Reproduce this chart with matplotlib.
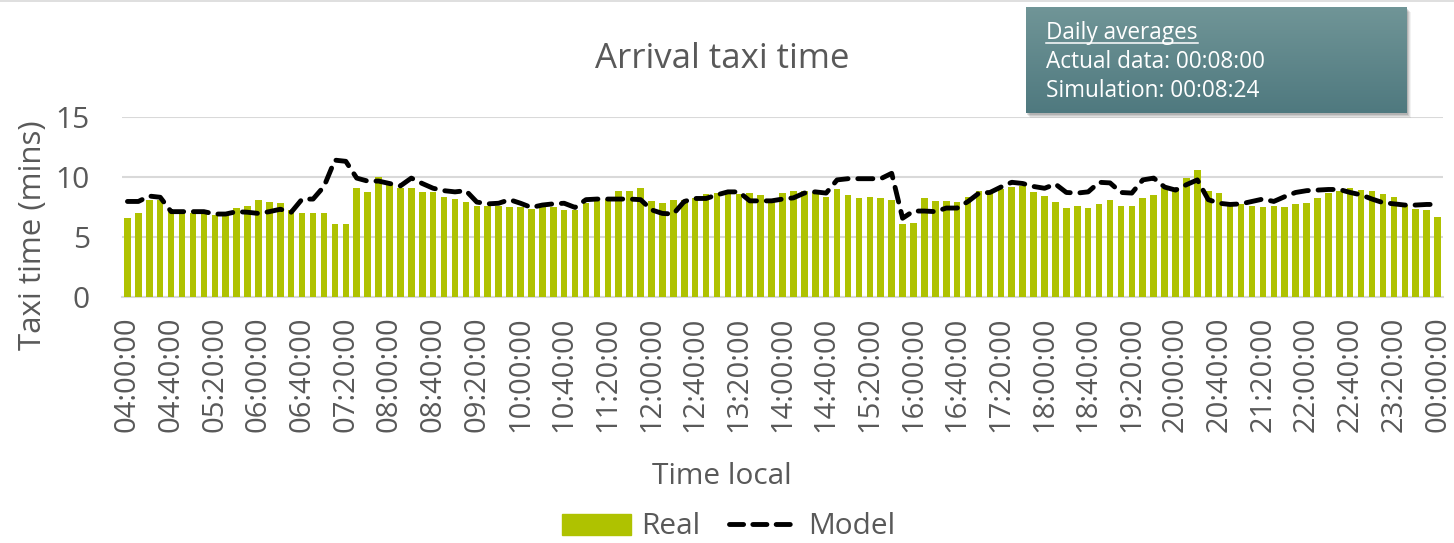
import numpy as np
import matplotlib
matplotlib.use("Agg")
import matplotlib.pyplot as plt
from matplotlib.patches import Rectangle, Patch
from matplotlib.lines import Line2D

plt.rcParams['font.family'] = ['Open Sans', 'DejaVu Sans']

# 10-minute slots from 04:00 to 00:00
real = [6.55, 7.0, 8.05, 8.1, 7.1, 7.25, 7.0, 7.0, 6.8, 6.8,
        7.4, 7.6, 8.05, 7.9, 7.8, 7.25, 7.0, 7.0, 7.0, 6.07,
        6.07, 9.05, 8.75, 10.0, 9.3, 9.05, 9.05, 8.75, 8.75, 8.35,
        8.15, 7.9, 7.6, 7.6, 7.6, 7.45, 7.45, 7.3, 7.45, 7.45,
        7.2, 7.25, 7.8, 7.95, 8.15, 8.8, 8.85, 9.05, 8.0, 7.8,
        8.1, 8.1, 8.2, 8.55, 8.65, 8.75, 8.55, 8.65, 8.45, 8.15,
        8.65, 8.8, 8.85, 8.7, 8.35, 8.95, 8.45, 8.25, 8.35, 8.2,
        8.05, 6.07, 6.15, 8.2, 8.0, 7.95, 7.9, 8.35, 8.85, 8.7,
        8.95, 9.15, 9.25, 8.75, 8.4, 7.9, 7.4, 7.6, 7.4, 7.75,
        8.05, 7.6, 7.6, 8.2, 8.5, 9.05, 9.05, 9.9, 10.55, 8.85,
        8.65, 7.85, 7.75, 7.6, 7.45, 7.6, 7.45, 7.75, 7.8, 8.25,
        8.65, 8.85, 9.05, 8.9, 8.85, 8.55, 8.3, 7.65, 7.3, 7.25,
        6.65]

model = [7.95, 7.95, 8.4, 8.3, 7.1, 7.1, 7.1, 7.1, 6.9, 6.9,
         7.1, 7.05, 6.95, 7.1, 7.3, 7.05, 8.15, 8.15, 9.2, 11.4,
         11.3, 9.9, 9.65, 9.65, 9.45, 9.25, 9.9, 9.45, 9.05, 8.85,
         8.75, 8.85, 7.9, 7.75, 7.8, 8.1, 7.8, 7.45, 7.65, 7.75,
         7.8, 7.45, 8.1, 8.15, 8.15, 8.15, 8.15, 8.1, 7.25, 6.95,
         6.9, 7.95, 8.2, 8.2, 8.5, 8.75, 8.75, 8.0, 8.0, 8.0,
         8.15, 8.25, 8.65, 8.75, 8.65, 9.75, 9.85, 9.85, 9.85, 9.85,
         10.3, 6.55, 7.15, 7.15, 7.1, 7.4, 7.4, 7.95, 8.65, 8.7,
         9.15, 9.55, 9.45, 9.2, 9.05, 9.4, 8.7, 8.65, 8.75, 9.55,
         9.5, 8.7, 8.65, 9.75, 9.9, 9.15, 8.9, 9.35, 9.75, 8.1,
         7.8, 7.7, 7.75, 7.95, 8.15, 7.95, 8.35, 8.7, 8.85, 8.9,
         8.95, 8.95, 8.7, 8.5, 8.15, 7.85, 7.75, 7.65, 7.65, 7.7,
         7.7]

tick_labels = ["04:00:00", "04:40:00", "05:20:00", "06:00:00", "06:40:00",
               "07:20:00", "08:00:00", "08:40:00", "09:20:00", "10:00:00",
               "10:40:00", "11:20:00", "12:00:00", "12:40:00", "13:20:00",
               "14:00:00", "14:40:00", "15:20:00", "16:00:00", "16:40:00",
               "17:20:00", "18:00:00", "18:40:00", "19:20:00", "20:00:00",
               "20:40:00", "21:20:00", "22:00:00", "22:40:00", "23:20:00",
               "00:00:00"]
tick_step = 4

avg_lines = ["Daily averages", "Actual data: 00:08:00", "Simulation: 00:08:24"]

GREEN = "#AFC200"
GREY_TXT = "#595959"
GRID = "#D9D9D9"

W, H = 1454, 543
fig = plt.figure(figsize=(W / 100, H / 100), dpi=100)
fig.patch.set_facecolor("white")

def fx(px):
    return px / W

def fy(py):
    return 1 - py / H

ax = fig.add_axes([fx(122), fy(296.7), fx(1443) - fx(122), fy(117) - fy(296.7)])
x = np.arange(len(real))
ax.bar(x, real, width=0.6, color=GREEN, zorder=2)
ax.plot(x, model, color="black", lw=3.5, dashes=(3.1, 2.0),
        dash_capstyle="round", solid_capstyle="round", zorder=3)

ax.set_xlim(-0.5, len(real) - 0.5)
ax.set_ylim(0, 15)
ax.set_yticks([0, 5, 10, 15])
ax.set_xticks(x[::tick_step])
ax.set_xticklabels(tick_labels, rotation=90, fontsize=21, color=GREY_TXT)
ax.tick_params(axis="y", labelsize=21.5, labelcolor=GREY_TXT, length=0, pad=23)
ax.tick_params(axis="x", length=0, pad=14)
ax.grid(axis="y", color=GRID, lw=1.5, zorder=0)
ax.set_axisbelow(True)
for s in ["top", "right", "left"]:
    ax.spines[s].set_visible(False)
ax.spines["bottom"].set_color(GRID)
ax.spines["bottom"].set_linewidth(1.5)
ax.spines["bottom"].set_zorder(1)
ax.patch.set_alpha(0)

# outer chart frame line at top
fig.add_artist(Line2D([0, 1], [fy(1), fy(1)], color=GRID, lw=1.2))

fig.text(fx(722), fy(59), "Arrival taxi time", ha="center", va="center",
         fontsize=25, color=GREY_TXT)
fig.text(fx(33), fy(235), "Taxi time (mins)", rotation=90, ha="center",
         va="center", fontsize=22.5, color=GREY_TXT)
fig.text(fx(722), fy(476), "Time local", ha="center", va="center",
         fontsize=21.5, color=GREY_TXT)

handles = [Patch(facecolor=GREEN, edgecolor=GREEN),
           Line2D([], [], color="black", lw=3.5, dashes=(2.9, 1.9),
                  dash_capstyle="round")]
fig.legend(handles, ["Real", "Model"], loc="center", bbox_to_anchor=(fx(729), fy(527)),
           ncol=2, frameon=False, fontsize=21.5, labelcolor=GREY_TXT,
           handlelength=2.3, handleheight=0.7, handletextpad=0.35,
           columnspacing=0.95, borderpad=0)

# annotation box with gradient and soft shadow
bx0, by0, bx1, by1 = 1026, 7, 1407, 113
for i, a in enumerate([0.05, 0.07, 0.09, 0.12]):
    off = 5 - i
    fig.add_artist(Rectangle((fx(bx0 + off - 1), fy(by1 + off)),
                             fx(bx1 - bx0), fy(by0) - fy(by1),
                             facecolor="black", edgecolor="none", alpha=a, zorder=9))
bax = fig.add_axes([fx(bx0), fy(by1), fx(bx1) - fx(bx0), fy(by0) - fy(by1)], zorder=10)
top = np.array([112, 149, 151]) / 255
bot = np.array([79, 121, 127]) / 255
t = np.linspace(0, 1, 100)[:, None]
grad = top[None, None, :] * (1 - t[:, :, None]) + bot[None, None, :] * t[:, :, None]
grad = np.repeat(grad, 2, axis=1)
bax.imshow(grad, aspect="auto", extent=[0, 1, 0, 1], origin="upper")
bax.set_axis_off()

tx = (1046 - bx0) / (bx1 - bx0)
for i, line in enumerate(avg_lines):
    bax.text(tx, 1 - (33 + 29 * i - by0) / (by1 - by0), line,
             transform=bax.transAxes, ha="left", va="center",
             fontsize=16.3, color="white")
bax.add_line(Line2D([tx, (1198 - bx0) / (bx1 - bx0)],
                    [1 - (43 - by0) / (by1 - by0)] * 2,
                    color="white", lw=1.1, transform=bax.transAxes))

fig.savefig("out.png", dpi=100)
